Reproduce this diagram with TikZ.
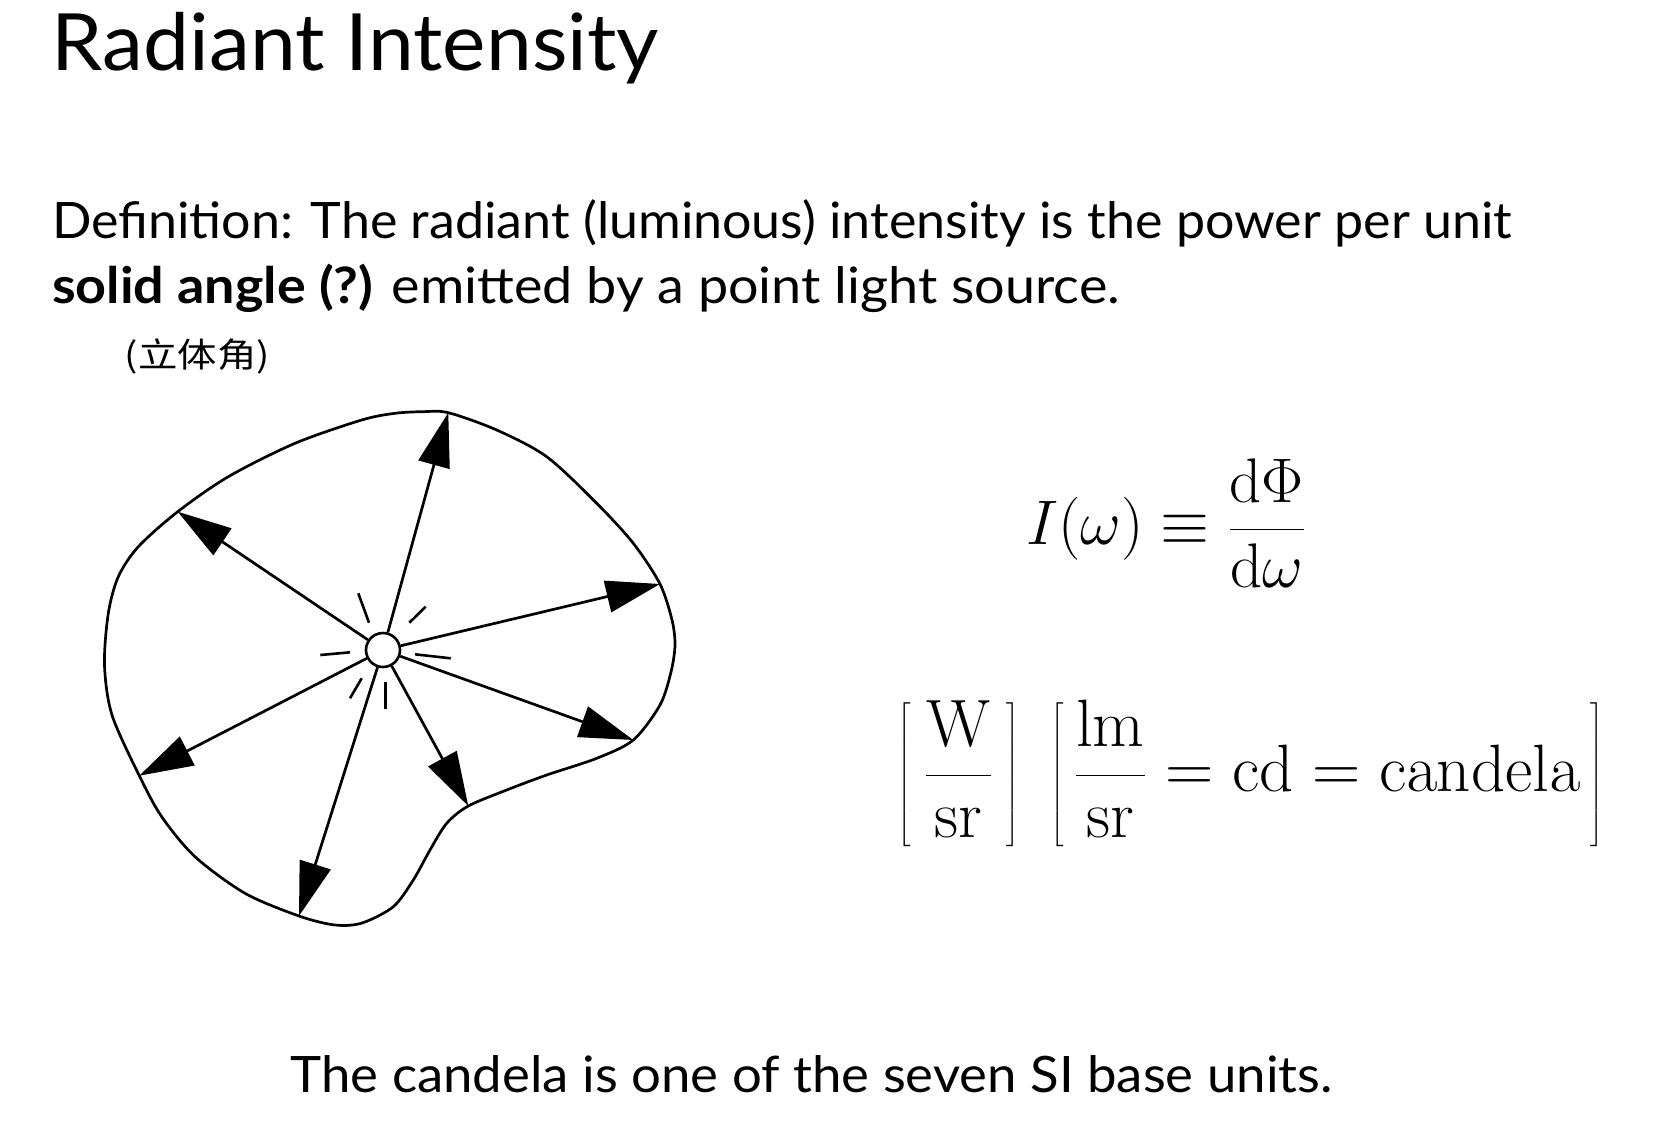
\documentclass[tikz,border=0pt]{standalone}
\usepackage{fix-cm}
\usepackage[no-math]{fontspec}
\usepackage{graphicx}
\setmainfont{Lato}
\newfontfamily\cjk{Noto Sans CJK SC}
\usetikzlibrary{arrows.meta}
\tikzset{
  txt/.style={inner sep=0pt, outer sep=0pt, anchor=base west},
  ray/.style={line width=1.35pt, -{Triangle[length=27pt, width=16pt]}},
  flick/.style={line width=1.3pt},
  outline/.style={line width=1.35pt},
  lamp/.style={circle, draw, line width=1.3pt, minimum size=17pt, inner sep=0pt, fill=white}
}
\begin{document}
\begin{tikzpicture}[x=0.5pt, y=-0.5pt]
\useasboundingbox[fill=white] (0,0) rectangle (1662,1136);

% texts
\node[txt] (title) at (52,70.7) {\resizebox{303.5pt}{\height}{\fontsize{39.5}{44}\selectfont Radiant Intensity}};
\node[txt] (def1) at (52,238.3) {\resizebox{730pt}{\height}{\fontsize{25.1}{30}\selectfont Definition: The radiant (luminous) intensity is the power per unit}};
\node[txt] (def2) at (52,303.3) {\resizebox{534pt}{\height}{\fontsize{25.1}{30}\selectfont\textbf{solid angle (?)} emitted by a point light source.}};
\node[txt] (cjk) at (125,367) {\resizebox{72.5pt}{\height}{\fontsize{17}{20}\selectfont\cjk (立体角)}};
\node[txt] (bottom) at (290.7,1092.7) {\resizebox{521pt}{\height}{\fontsize{25.1}{30}\selectfont The candela is one of the seven SI base units.}};

% equations
\node[txt] (eq1) at (1026,544.7) {\fontsize{31.5}{38}\selectfont$\displaystyle I(\omega)\equiv\frac{\mathrm{d}\Phi}{\mathrm{d}\omega}$};
\node[txt] (eq2) at (897.7,791.7) {\fontsize{33.5}{40}\selectfont$\displaystyle\left[\hskip6.4pt\frac{\mathrm{W}}{\mathrm{sr}}\hskip6.4pt\right]\hskip10pt\left[\hskip4.8pt\frac{\mathrm{lm}}{\mathrm{sr}}=\mathrm{cd}=\mathrm{candela}\hskip4.8pt\right]$};

% boundary surface
\draw[outline] plot[smooth cycle] coordinates {
 (395,413.3) (423,411.7) (448.3,412.7) (496.7,430) (546.7,456.7) (596.7,503.3)
 (633.3,543.3) (660,584) (672,620) (675,645) (671,672) (660,705) (633.3,740)
 (596.7,758.3) (546.7,775) (506.7,790) (468.3,806) (446.7,823.3) (430,850)
 (413.3,880) (393.3,906.7) (362,923) (335,925) (299,916) (245,893.3)
 (195,856.7) (161.7,816.7) (139.3,775.7) (112,715) (104.5,665) (108.3,613.3)
 (118.3,576.7) (138.3,546.7) (177.7,511.7) (228.3,476.7) (295,443.3) (361.7,420)
};

% source
\node[lamp] (src) at (383,650) {};

% ray tips on the surface
\coordinate (t1) at (448.3,412.7);
\coordinate (t2) at (177.7,511.7);
\coordinate (t3) at (660,584);
\coordinate (t4) at (633.3,740);
\coordinate (t5) at (468.3,806);
\coordinate (t6) at (299,916);
\coordinate (t7) at (139.3,775.7);

\foreach \t in {t1,t2,t3,t4,t5,t6,t7} \draw[ray] (src) -- (\t);

% flicker marks
\coordinate (f1a) at (358.3,593.3); \coordinate (f1b) at (369,622.7);
\coordinate (f2a) at (409.3,622.7); \coordinate (f2b) at (425.7,606.7);
\coordinate (f3a) at (320.3,655);   \coordinate (f3b) at (350,652.3);
\coordinate (f4a) at (415,654.3);   \coordinate (f4b) at (450.7,658.3);
\coordinate (f5a) at (350,698.3);   \coordinate (f5b) at (361.7,678.3);
\coordinate (f6a) at (385.5,682);   \coordinate (f6b) at (385.5,709.3);
\foreach \k in {1,...,6} \draw[flick] (f\k a) -- (f\k b);
\end{tikzpicture}
\end{document}
